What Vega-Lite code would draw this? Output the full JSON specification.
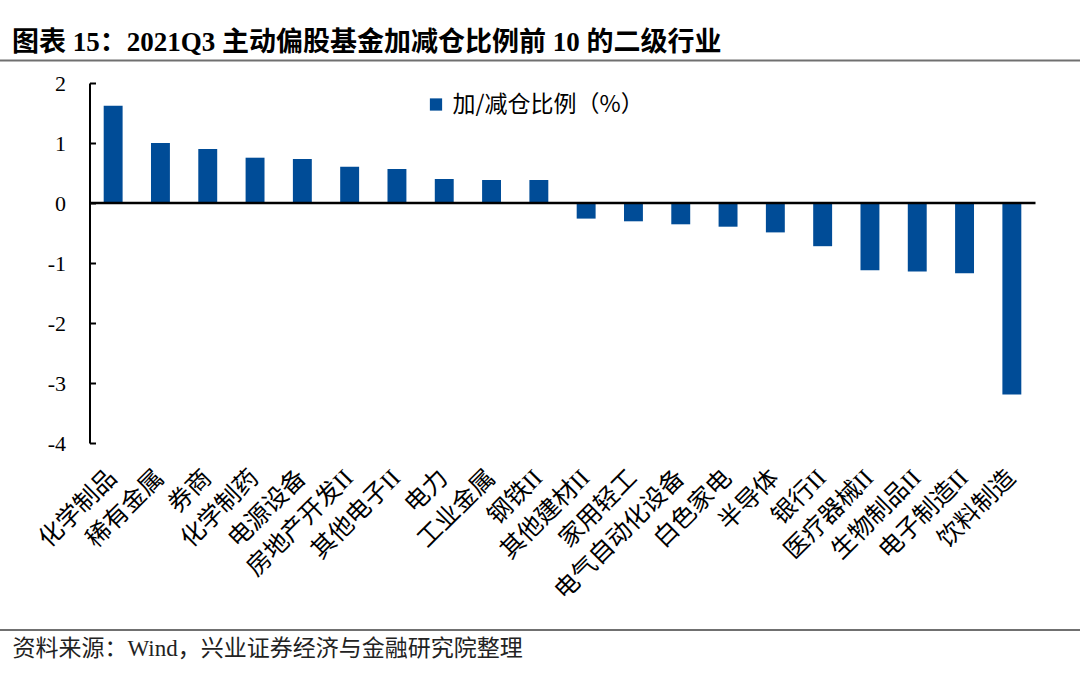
{
  "$schema": "https://vega.github.io/schema/vega-lite/v6.json",
  "width": 946,
  "height": 360,
  "autosize": {"type": "none"},
  "padding": {"left": 89.5, "top": 83, "right": 44.5, "bottom": 248},
  "background": "white",
  "config": {"view": {"stroke": null}},
  "title": {
    "text": "图表 15：2021Q3 主动偏股基金加减仓比例前 10 的二级行业",
    "anchor": "start",
    "frame": "group",
    "dx": -77.5,
    "offset": 3,
    "fontSize": 27,
    "font": "Liberation Serif, Noto Sans CJK SC",
    "fontWeight": "bold",
    "color": "#000000"
  },
  "data": {
    "values": [
      {"industry": "化学制品", "value": 1.62, "series": "加/减仓比例（%）"},
      {"industry": "稀有金属", "value": 1.0, "series": "加/减仓比例（%）"},
      {"industry": "券商", "value": 0.9, "series": "加/减仓比例（%）"},
      {"industry": "化学制药", "value": 0.755, "series": "加/减仓比例（%）"},
      {"industry": "电源设备", "value": 0.733, "series": "加/减仓比例（%）"},
      {"industry": "房地产开发II", "value": 0.605, "series": "加/减仓比例（%）"},
      {"industry": "其他电子II", "value": 0.567, "series": "加/减仓比例（%）"},
      {"industry": "电力", "value": 0.4, "series": "加/减仓比例（%）"},
      {"industry": "工业金属", "value": 0.383, "series": "加/减仓比例（%）"},
      {"industry": "钢铁II", "value": 0.383, "series": "加/减仓比例（%）"},
      {"industry": "其他建材II", "value": -0.26, "series": "加/减仓比例（%）"},
      {"industry": "家用轻工", "value": -0.305, "series": "加/减仓比例（%）"},
      {"industry": "电气自动化设备", "value": -0.355, "series": "加/减仓比例（%）"},
      {"industry": "白色家电", "value": -0.395, "series": "加/减仓比例（%）"},
      {"industry": "半导体", "value": -0.49, "series": "加/减仓比例（%）"},
      {"industry": "银行II", "value": -0.72, "series": "加/减仓比例（%）"},
      {"industry": "医疗器械II", "value": -1.12, "series": "加/减仓比例（%）"},
      {"industry": "生物制品II", "value": -1.14, "series": "加/减仓比例（%）"},
      {"industry": "电子制造II", "value": -1.17, "series": "加/减仓比例（%）"},
      {"industry": "饮料制造", "value": -3.19, "series": "加/减仓比例（%）"}
    ]
  },
  "resolve": {"scale": {"x": "independent"}},
  "layer": [
    {
      "mark": {"type": "bar"},
      "encoding": {
        "x": {
          "field": "industry",
          "type": "nominal",
          "sort": null,
          "scale": {"paddingInner": 0.6, "paddingOuter": 0.3},
          "axis": {
            "title": "资料来源：Wind，兴业证券经济与金融研究院整理",
            "titleX": -77.5,
            "titleY": 205,
            "titleAlign": "left",
            "titleBaseline": "middle",
            "titleFontSize": 23,
            "titleFontWeight": "normal",
            "titleFont": "Liberation Serif, Noto Sans CJK SC",
            "titleColor": "#222222",
            "labelAngle": -45,
            "labelAlign": "right",
            "labelBaseline": "middle",
            "labelFontSize": 24.5,
            "labelFont": "Liberation Serif, Noto Sans CJK SC",
            "labelColor": "#000000",
            "labelPadding": 31,
            "labelOverlap": false,
            "labelLimit": 0,
            "domain": false,
            "ticks": false,
            "grid": false
          }
        },
        "y": {
          "field": "value",
          "type": "quantitative",
          "scale": {"domain": [-4, 2], "nice": false},
          "axis": {
            "title": null,
            "values": [-4, -3, -2, -1, 0, 1, 2],
            "labelExpr": "datum.value < 0 ? '-' + abs(datum.value) : '' + datum.value",
            "grid": false,
            "domainColor": "#000000",
            "domainWidth": 2,
            "tickColor": "#000000",
            "tickWidth": 2,
            "tickSize": -6,
            "labelPadding": 30,
            "labelFontSize": 22,
            "labelFont": "Liberation Serif",
            "labelColor": "#000000"
          }
        },
        "color": {
          "field": "series",
          "type": "nominal",
          "scale": {"range": ["#004C97"]},
          "legend": {
            "title": null,
            "orient": "none",
            "legendX": 335,
            "legendY": 10,
            "padding": 0,
            "symbolType": "square",
            "symbolSize": 150,
            "symbolStrokeWidth": 0,
            "labelOffset": 5,
            "labelLimit": 0,
            "labelFontSize": 23,
            "labelFont": "Noto Sans CJK SC",
            "labelColor": "#000000"
          }
        }
      }
    },
    {
      "data": {"values": [{}]},
      "mark": {"type": "rule", "color": "#000000", "strokeWidth": 2.5},
      "encoding": {"y": {"datum": 0}}
    },
    {
      "data": {"values": [{}]},
      "mark": {"type": "rule", "color": "#707070", "strokeWidth": 2},
      "encoding": {
        "y": {"datum": 2.375},
        "x": {"datum": 0, "type": "quantitative", "scale": {"domain": [0, 1], "range": [-89.5, 990.5]}, "axis": null},
        "x2": {"datum": 1}
      }
    },
    {
      "data": {"values": [{}]},
      "mark": {"type": "rule", "color": "#707070", "strokeWidth": 2},
      "encoding": {
        "y": {"datum": -7.117},
        "x": {"datum": 0, "type": "quantitative", "scale": {"domain": [0, 1], "range": [-89.5, 990.5]}, "axis": null},
        "x2": {"datum": 1}
      }
    }
  ]
}
